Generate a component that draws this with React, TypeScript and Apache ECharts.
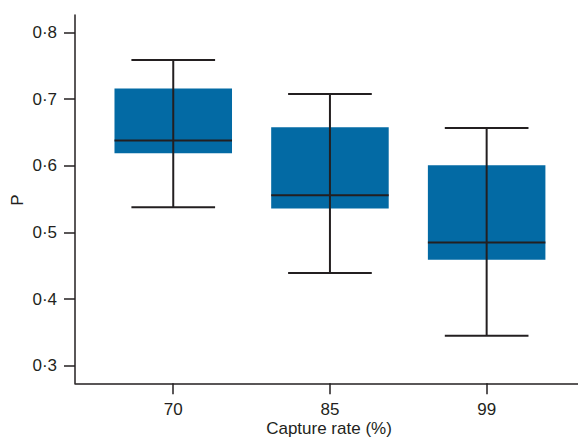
import React, { useEffect, useRef } from "react";
import * as echarts from "echarts";

const categories = ["70", "85", "99"];
const positions = [1, 2, 3];
const whiskerLow = [0.538, 0.439, 0.345];
const q1 = [0.619, 0.536, 0.459];
const median = [0.638, 0.556, 0.485];
const q3 = [0.716, 0.658, 0.601];
const whiskerHigh = [0.759, 0.708, 0.657];
const yTicks = [0.3, 0.4, 0.5, 0.6, 0.7, 0.8];
const xTitle = "Capture rate (%)";
const yTitle = "P";

const INK = "#231f20";
const BOX = "#036aa4";
const FONT = "Liberation Sans, Arial, sans-serif";

export default function App() {
  const ref = useRef<HTMLDivElement>(null);
  useEffect(() => {
    if (!ref.current) return;
    const chart = echarts.init(ref.current, null, { renderer: "svg" });
    const data = positions.map((p, i) => [p, whiskerLow[i], q1[i], median[i], q3[i], whiskerHigh[i]]);
    chart.setOption({
      animation: false,
      backgroundColor: "#ffffff",
      grid: { left: 75, right: 0, top: 15, bottom: 58.7, containLabel: false, outerBoundsMode: "none" },
      graphic: [
        {
          type: "text",
          x: 17,
          y: 200,
          rotation: Math.PI / 2,
          style: { text: yTitle, fontSize: 17, fontFamily: FONT, fill: INK, align: "center", verticalAlign: "middle" },
        },
        {
          type: "text",
          x: 329,
          y: 428,
          style: { text: xTitle, fontSize: 17, fontFamily: FONT, fill: INK, align: "center", verticalAlign: "middle" },
        },
      ],
      xAxis: {
        type: "value",
        min: 0.373,
        max: 3.583,
        axisLine: { show: true, lineStyle: { color: INK, width: 1.5 } },
        axisTick: { show: true, customValues: positions, length: 11, lineStyle: { color: INK, width: 1.5 } },
        axisLabel: {
          customValues: positions,
          formatter: (v: number) => categories[positions.indexOf(Math.round(v))] ?? "",
          fontSize: 17,
          color: INK,
          fontFamily: FONT,
          margin: 18,
        },
        splitLine: { show: false },
      },
      yAxis: {
        type: "value",
        min: 0.2735,
        max: 0.8265,
        axisLine: { show: true, lineStyle: { color: INK, width: 1.5 } },
        axisTick: { show: true, customValues: yTicks, length: 11, lineStyle: { color: INK, width: 1.5 } },
        axisLabel: {
          customValues: yTicks,
          formatter: (v: number) => v.toFixed(1).replace(".", "·"),
          fontSize: 17,
          color: INK,
          fontFamily: FONT,
          margin: 18,
        },
        splitLine: { show: false },
      },
      series: [
        {
          type: "custom",
          data,
          encode: { x: 0, y: [1, 2, 3, 4, 5] },
          renderItem: (params: any, api: any) => {
            const x = api.value(0);
            const lo = api.coord([x, api.value(1)]);
            const b1 = api.coord([x, api.value(2)]);
            const md = api.coord([x, api.value(3)]);
            const b3 = api.coord([x, api.value(4)]);
            const hi = api.coord([x, api.value(5)]);
            const bw = api.size([0.75, 0])[0];
            const cw = api.size([0.534, 0])[0];
            const cx = lo[0];
            const ls = { stroke: INK, lineWidth: 2 };
            return {
              type: "group",
              children: [
                {
                  type: "rect",
                  shape: { x: cx - bw / 2, y: b3[1], width: bw, height: b1[1] - b3[1] },
                  style: { fill: BOX },
                },
                { type: "line", shape: { x1: cx, y1: lo[1], x2: cx, y2: hi[1] }, style: ls },
                { type: "line", shape: { x1: cx - bw / 2, y1: md[1], x2: cx + bw / 2, y2: md[1] }, style: ls },
                { type: "line", shape: { x1: cx - cw / 2, y1: lo[1], x2: cx + cw / 2, y2: lo[1] }, style: ls },
                { type: "line", shape: { x1: cx - cw / 2, y1: hi[1], x2: cx + cw / 2, y2: hi[1] }, style: ls },
              ],
            };
          },
        },
      ],
    });
    return () => chart.dispose();
  }, []);
  return (
    <div
      ref={ref}
      style={{ position: "absolute", left: 0, top: 0, width: 578, height: 442 }}
    />
  );
}
